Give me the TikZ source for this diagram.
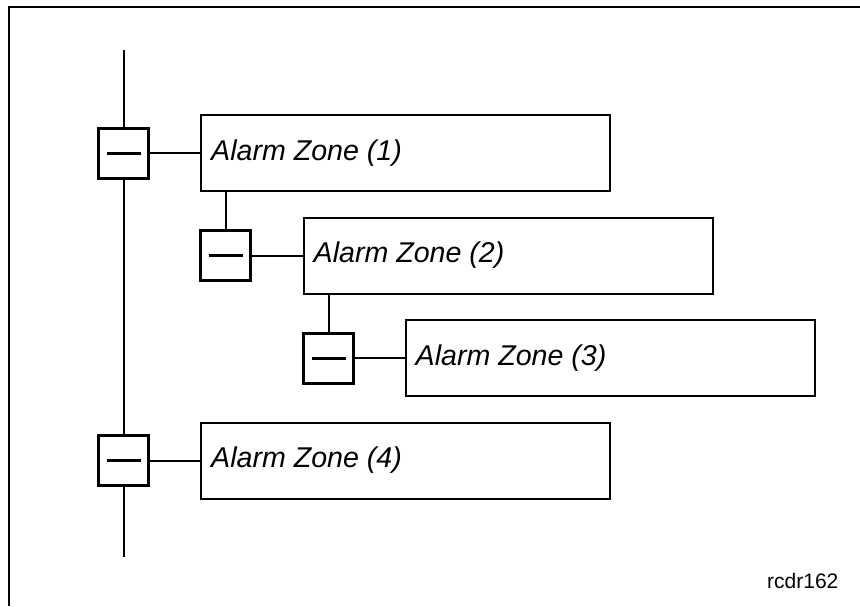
\documentclass[tikz,border=0pt]{standalone}
\usepackage{fontspec}
\setmainfont{Liberation Sans}
\begin{document}
\begin{tikzpicture}[x=1pt, y=-1pt,
  zone/.style={draw, line width=2pt, minimum width=409pt, minimum height=76pt,
    inner sep=0pt},
  zonetext/.style={anchor=west, inner sep=0pt,
    font=\fontsize{28.6}{34}\selectfont\itshape},
  switchbox/.style={draw, line width=3pt, minimum size=50pt, inner sep=0pt,
    path picture={\draw[line width=3pt]
      ([xshift=-17pt]path picture bounding box.center) --
      ([xshift=17pt]path picture bounding box.center);}},
  wire/.style={line width=2pt}]
\useasboundingbox (0,0) rectangle (860,606);

% outer frame (left and top edges)
\draw[line width=2pt] (9,606) -- (9,7) -- (860,7);

% zone boxes
\node[zone] (z1) at (405.5,153) {};
\node[zone] (z2) at (508,255.5) {};
\node[zone] (z3) at (610,358) {};
\node[zone] (z4) at (405.5,460.5) {};

\node[zonetext] (t1) at ([xshift=11pt]z1.west) {Alarm Zone (1)};
\node[zonetext] (t2) at ([xshift=11pt]z2.west) {Alarm Zone (2)};
\node[zonetext] (t3) at ([xshift=11pt]z3.west) {Alarm Zone (3)};
\node[zonetext] (t4) at ([xshift=11pt]z4.west) {Alarm Zone (4)};

% switch symbols
\node[switchbox] (s1) at (123.5,153) {};
\node[switchbox] (s2) at (225.5,255.5) {};
\node[switchbox] (s3) at (328.5,358) {};
\node[switchbox] (s4) at (123.5,460.5) {};

% main bus
\coordinate (bustop) at (123.5,50);
\coordinate (busbot) at (123.5,557);
\draw[wire] (bustop) -- (s1.north);
\draw[wire] (s1.south) -- (s4.north);
\draw[wire] (s4.south) -- (busbot);

% switch to zone links
\draw[wire] (s1.east) -- (z1.west);
\draw[wire] (s2.east) -- (z2.west);
\draw[wire] (s3.east) -- (z3.west);
\draw[wire] (s4.east) -- (z4.west);

% nested zone links
\draw[wire] (s2.north) -- (s2.north |- z1.south);
\draw[wire] (s3.north) -- (s3.north |- z2.south);

% drawing reference
\node[anchor=base west, inner sep=0pt, font=\fontsize{21}{25}\selectfont]
  (ref) at (767,588) {rcdr162};
\end{tikzpicture}
\end{document}
